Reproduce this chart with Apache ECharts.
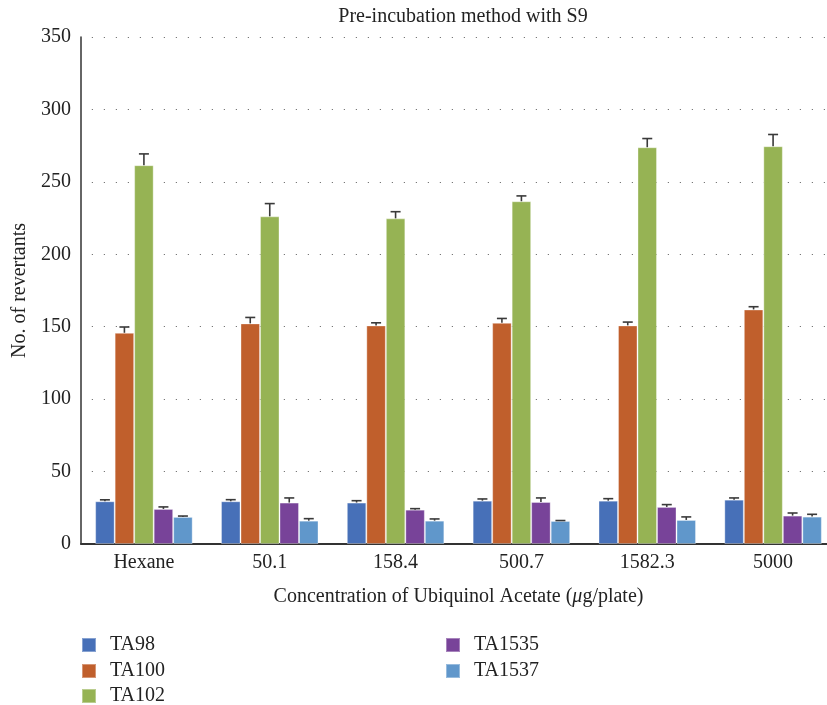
<!DOCTYPE html>
<html>
<head>
<meta charset="utf-8">
<script src="https://cdn.jsdelivr.net/npm/echarts@6/dist/echarts.min.js"></script>
<style>
  html, body { margin: 0; padding: 0; background: #fff; }
  #chart { width: 827px; height: 705px; }
</style>
</head>
<body>
<div id="chart"></div>
<script>
// Concentrations tested (x categories)
const categories = ['Hexane', '50.1', '158.4', '500.7', '1582.3', '5000'];

// Strain names
const strains = ['TA98', 'TA100', 'TA102', 'TA1535', 'TA1537'];

// Mean revertant counts per strain
const ta98   = [29.5, 29.5, 28.6, 29.9, 29.9, 30.6];
const ta100  = [145.8, 152.3, 150.9, 152.7, 150.9, 161.9];
const ta102  = [261.5, 226.2, 224.8, 236.6, 273.9, 274.6];
const ta1535 = [24.2, 28.6, 23.7, 29.0, 25.6, 19.6];
const ta1537 = [18.7, 16.1, 16.1, 15.9, 16.6, 18.9];

// Standard deviations (upper error bars)
const ta98Err   = [1.0, 1.1, 1.3, 1.2, 1.4, 1.2];
const ta100Err  = [4.0, 4.1, 1.8, 3.0, 2.3, 1.9];
const ta102Err  = [7.8, 8.8, 4.6, 3.7, 6.0, 8.1];
const ta1535Err = [1.4, 3.2, 0.7, 2.8, 1.6, 1.8];
const ta1537Err = [0.6, 1.4, 1.2, 0.3, 2.1, 1.6];

// Y axis ticks
const yMin = 0, yMax = 350, yStep = 50;

const means = [ta98, ta100, ta102, ta1535, ta1537];
const errs = [ta98Err, ta100Err, ta102Err, ta1535Err, ta1537Err];
const colors = ['#4770b8', '#c05f2c', '#96b354', '#784399', '#6097cb'];

const FONT = '"Liberation Serif", "DejaVu Serif", serif';
const FS = 20;
const CAT_GAP = 0.225;

const barSeries = strains.map((name, i) => ({
  name: name,
  type: 'bar',
  data: means[i],
  barGap: '0%',
  barCategoryGap: (CAT_GAP * 100) + '%',
  itemStyle: { color: colors[i], borderColor: 'rgba(255,255,255,0.35)', borderWidth: 1 },
  emphasis: { disabled: true },
  z: 2
}));

// Upper-only error bars, placed over the matching bar in each group
const errSeries = strains.map((name, i) => ({
  name: name + ' error',
  type: 'custom',
  z: 3,
  silent: true,
  data: categories.map((c, k) => [k, means[i][k], errs[i][k]]),
  encode: { x: 0, y: 1 },
  renderItem: function (params, api) {
    const k = api.value(0);
    const v = api.value(1);
    const e = api.value(2);
    const band = api.size([1, 0])[0];
    const n = strains.length;
    const barW = band * (1 - CAT_GAP) / n;
    const base = api.coord([k, v]);
    const top = api.coord([k, v + e]);
    const x = base[0] - n * barW / 2 + (i + 0.5) * barW;
    const cap = 5;
    const style = { stroke: '#3a3a3a', lineWidth: 1.6, fill: null };
    return {
      type: 'group',
      children: [
        { type: 'line', shape: { x1: x, y1: base[1], x2: x, y2: top[1] }, style: style },
        { type: 'line', shape: { x1: x - cap, y1: top[1], x2: x + cap, y2: top[1] }, style: style }
      ]
    };
  }
}));

// Legend: two columns (3 + 2 entries), one legend block per entry
const legendSpots = [[81, 635], [81, 661], [81, 686], [445, 635], [445, 661]];
const legends = strains.map((name, i) => ({
  data: [name],
  left: legendSpots[i][0],
  top: legendSpots[i][1],
  padding: 0,
  itemWidth: 14,
  itemHeight: 14,
  icon: 'rect',
  textStyle: { fontFamily: FONT, fontSize: FS, lineHeight: 14, color: '#222', padding: [0, 0, 0, 9] },
  selectedMode: false
}));

const option = {
  backgroundColor: '#fff',
  animation: false,
  title: {
    text: 'Pre-incubation method with S9',
    left: 458,
    top: 2,
    textAlign: 'center',
    textStyle: { fontFamily: FONT, fontSize: FS, fontWeight: 'normal', color: '#222' }
  },
  legend: legends,
  grid: { left: 81, top: 37, width: 755, bottom: 161, containLabel: false, outerBoundsMode: 'none' },
  xAxis: {
    type: 'category',
    data: categories,
    axisLine: { lineStyle: { color: '#333', width: 2 } },
    axisTick: { show: false },
    axisLabel: { fontFamily: FONT, fontSize: FS, color: '#222', margin: 9 },
    name: '{t|Concentration of Ubiquinol Acetate (}{i|μ}{t|g/plate)}',
    nameLocation: 'middle',
    nameGap: 43,
    nameTextStyle: {
      rich: {
        t: { fontFamily: FONT, fontSize: FS, color: '#222' },
        i: { fontFamily: FONT, fontSize: FS, color: '#222', fontStyle: 'italic' }
      }
    }
  },
  yAxis: {
    type: 'value',
    min: yMin,
    max: yMax,
    interval: yStep,
    axisLine: { show: true, lineStyle: { color: '#333', width: 1.5 } },
    axisTick: { show: false },
    axisLabel: { fontFamily: FONT, fontSize: FS, color: '#222', margin: 10 },
    splitLine: { show: true, lineStyle: { color: '#777', width: 1.2, type: [1.2, 10.8], dashOffset: -10.8 } },
    name: 'No. of revertants',
    nameLocation: 'middle',
    nameGap: 51,
    nameTextStyle: { fontFamily: FONT, fontSize: FS, color: '#222' }
  },
  series: barSeries.concat(errSeries)
};

const chart = echarts.init(document.getElementById('chart'), null, { renderer: 'canvas' });
chart.setOption(option);
</script>
</body>
</html>
